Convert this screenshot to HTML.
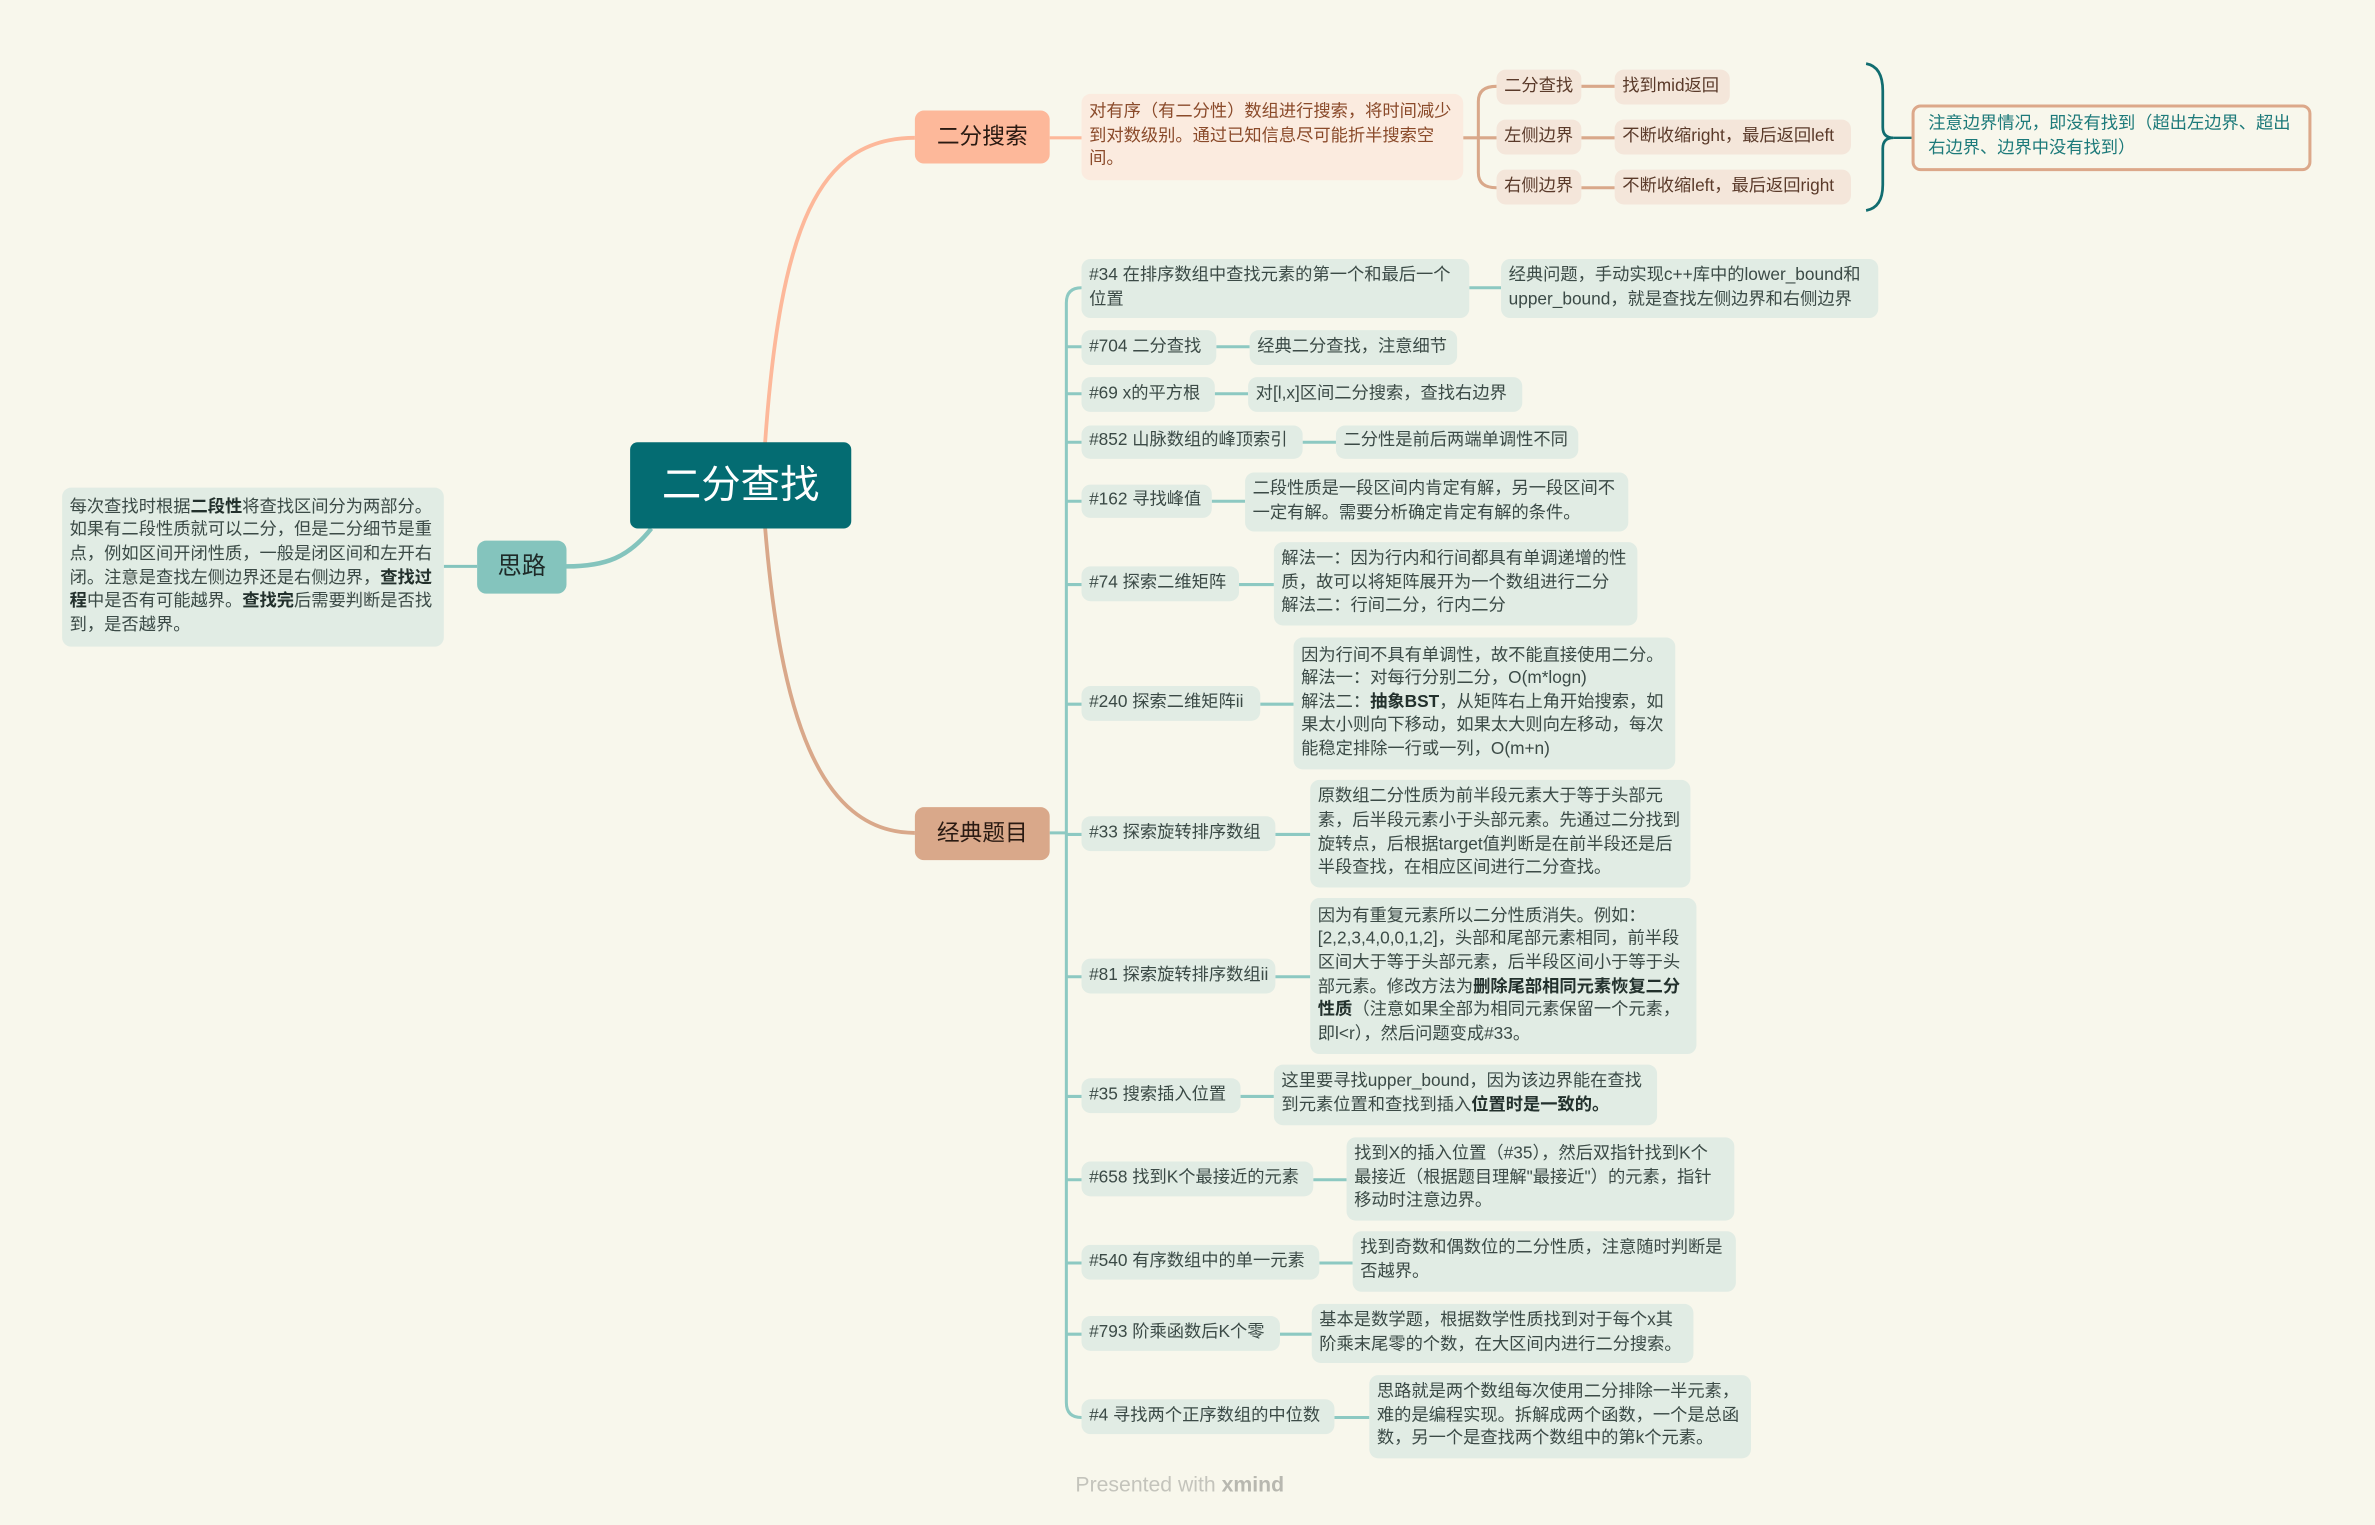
<!DOCTYPE html>
<html><head><meta charset="utf-8"><style>
html,body{margin:0;padding:0;background:#f8f7ec;width:2375px;height:1525px;overflow:hidden}
#w{position:absolute;left:0;top:0;width:1568px;height:1007px;transform:scale(1.5147,1.5144);transform-origin:0 0;font-family:"Liberation Sans","Noto Sans CJK SC",sans-serif}
.b{position:absolute;box-sizing:border-box;border-radius:6px;padding:0 5px;font-size:11.4px;line-height:15.6px;display:flex;align-items:center;color:#3b4a46;background:#e1ece4;white-space:nowrap}
.b>span{display:block}
.s{background:#f4e6da;color:#5a3a2a}
b{font-weight:bold;color:#22302c}
svg{position:absolute;left:0;top:0}
</style></head><body><div id="w">
<svg width="1568" height="1007" fill="none">
<path d="M505,294 C515,150 540,91 604,91" stroke="#fdb89a" stroke-width="2.5"/>
<path d="M505,347 C515,470 540,550 604,550" stroke="#d9a88a" stroke-width="2.5"/>
<path d="M430,349 C415,368 400,374 374,374" stroke="#84c4bd" stroke-width="3"/>
<path d="M293,374 L315,374" stroke="#84c4bd" stroke-width="2"/>
<path d="M693,91 L714,91" stroke="#fdb89a" stroke-width="2"/>
<path d="M966,91 L976,91 M988,57 Q976,57 976,67 L976,114 Q976,124 988,124 M976,91 L988,91" stroke="#d9a88a" stroke-width="2"/>
<path d="M1044,57 L1066,57 M1044,91 L1066,91 M1044,124 L1066,124" stroke="#d9a88a" stroke-width="2"/>
<path d="M1232,42 Q1243,44 1243,60 L1243,84 Q1243,91 1250,91 Q1243,91 1243,98 L1243,122 Q1243,137 1232,139" stroke="#116d70" stroke-width="1.8"/>
<path d="M1250,91 L1262,91" stroke="#116d70" stroke-width="1.5"/>
<path d="M693,550 L704,550" stroke="#8dc9c2" stroke-width="2"/>
<path d="M714,190 Q704,190 704,200 L704,926 Q704,936 714,936" stroke="#8dc9c2" stroke-width="2"/>
<g stroke="#8dc9c2" stroke-width="2">
<path d="M704,229 H714 M704,260 H714 M704,292 H714 M704,331 H714 M704,386 H714 M704,465 H714 M704,551 H714 M704,645 H714 M704,724 H714 M704,779 H714 M704,834 H714 M704,881 H714"/>
<path d="M970,190 H991 M803,229 H825 M802,260 H824 M860,292 H882 M800,331 H822 M818,386 H841 M832,465 H854 M842,551 H865 M842,645 H865 M819,724 H841 M867,779 H889 M871,834 H893 M845,881 H866 M881,936 H904"/>
</g>
</svg>
<div class="b" style="left:416px;top:292px;width:146px;height:57px;background:#046c72;color:#fff;font-size:26px;justify-content:center;border-radius:5px"><span>二分查找</span></div>
<div class="b" style="left:315px;top:357px;width:59px;height:35px;background:#84c4bd;color:#1e2a28;font-size:16px;justify-content:center"><span>思路</span></div>
<div class="b" style="left:41px;top:322px;width:252px;height:105px"><span>每次查找时根据<b>二段性</b>将查找区间分为两部分。<br>如果有二段性质就可以二分，但是二分细节是重<br>点，例如区间开闭性质，一般是闭区间和左开右<br>闭。注意是查找左侧边界还是右侧边界，<b>查找过<br>程</b>中是否有可能越界。<b>查找完</b>后需要判断是否找<br>到，是否越界。</span></div>
<div class="b" style="left:604px;top:73px;width:89px;height:35px;background:#fdb89a;color:#2a1a12;font-size:15px;justify-content:center"><span>二分搜索</span></div>
<div class="b" style="left:714px;top:62px;width:252px;height:57px;background:#fbebdf;color:#8a4a2a"><span>对有序（有二分性）数组进行搜索，将时间减少<br>到对数级别。通过已知信息尽可能折半搜索空<br>间。</span></div>
<div class="b s" style="left:988px;top:46px;width:56px;height:23px"><span>二分查找</span></div>
<div class="b s" style="left:988px;top:79px;width:56px;height:23px"><span>左侧边界</span></div>
<div class="b s" style="left:988px;top:112px;width:56px;height:23px"><span>右侧边界</span></div>
<div class="b s" style="left:1066px;top:46px;width:76px;height:23px"><span>找到mid返回</span></div>
<div class="b s" style="left:1066px;top:79px;width:156px;height:23px"><span>不断收缩right，最后返回left</span></div>
<div class="b s" style="left:1066px;top:112px;width:156px;height:23px"><span>不断收缩left，最后返回right</span></div>
<div class="b" style="left:1262px;top:69px;width:264px;height:44px;background:#f8f7ec;border:2px solid #dca88a;color:#1d7a7a;padding:0 9px"><span>注意边界情况，即没有找到（超出左边界、超出<br>右边界、边界中没有找到）</span></div>
<div class="b" style="left:604px;top:533px;width:89px;height:35px;background:#d9a88a;color:#2a1a12;font-size:15px;justify-content:center"><span>经典题目</span></div>

<div class="b" style="left:714px;top:171px;width:256px;height:39px"><span>#34 在排序数组中查找元素的第一个和最后一个<br>位置</span></div>
<div class="b" style="left:991px;top:171px;width:249px;height:39px"><span>经典问题，手动实现c++库中的lower_bound和<br>upper_bound，就是查找左侧边界和右侧边界</span></div>
<div class="b" style="left:714px;top:218px;width:89px;height:23px"><span>#704 二分查找</span></div>
<div class="b" style="left:825px;top:218px;width:137px;height:23px"><span>经典二分查找，注意细节</span></div>
<div class="b" style="left:714px;top:249px;width:88px;height:23px"><span>#69 x的平方根</span></div>
<div class="b" style="left:824px;top:249px;width:181px;height:23px"><span>对[l,x]区间二分搜索，查找右边界</span></div>
<div class="b" style="left:714px;top:281px;width:146px;height:22px"><span>#852 山脉数组的峰顶索引</span></div>
<div class="b" style="left:882px;top:281px;width:160px;height:22px"><span>二分性是前后两端单调性不同</span></div>
<div class="b" style="left:714px;top:320px;width:86px;height:22px"><span>#162 寻找峰值</span></div>
<div class="b" style="left:822px;top:312px;width:253px;height:39px"><span>二段性质是一段区间内肯定有解，另一段区间不<br>一定有解。需要分析确定肯定有解的条件。</span></div>
<div class="b" style="left:714px;top:374px;width:104px;height:23px"><span>#74 探索二维矩阵</span></div>
<div class="b" style="left:841px;top:358px;width:240px;height:55px"><span>解法一：因为行内和行间都具有单调递增的性<br>质，故可以将矩阵展开为一个数组进行二分<br>解法二：行间二分，行内二分</span></div>
<div class="b" style="left:714px;top:453px;width:118px;height:23px"><span>#240 探索二维矩阵ii</span></div>
<div class="b" style="left:854px;top:421px;width:252px;height:87px"><span>因为行间不具有单调性，故不能直接使用二分。<br>解法一：对每行分别二分，O(m*logn)<br>解法二：<b>抽象BST</b>，从矩阵右上角开始搜索，如<br>果太小则向下移动，如果太大则向左移动，每次<br>能稳定排除一行或一列，O(m+n)</span></div>
<div class="b" style="left:714px;top:539px;width:128px;height:23px"><span>#33 探索旋转排序数组</span></div>
<div class="b" style="left:865px;top:515px;width:251px;height:71px"><span>原数组二分性质为前半段元素大于等于头部元<br>素，后半段元素小于头部元素。先通过二分找到<br>旋转点，后根据target值判断是在前半段还是后<br>半段查找，在相应区间进行二分查找。</span></div>
<div class="b" style="left:714px;top:633px;width:128px;height:23px"><span>#81 探索旋转排序数组ii</span></div>
<div class="b" style="left:865px;top:593px;width:255px;height:103px"><span>因为有重复元素所以二分性质消失。例如：<br>[2,2,3,4,0,0,1,2]，头部和尾部元素相同，前半段<br>区间大于等于头部元素，后半段区间小于等于头<br>部元素。修改方法为<b>删除尾部相同元素恢复二分<br>性质</b>（注意如果全部为相同元素保留一个元素，<br>即l&lt;r），然后问题变成#33。</span></div>
<div class="b" style="left:714px;top:712px;width:105px;height:23px"><span>#35 搜索插入位置</span></div>
<div class="b" style="left:841px;top:703px;width:253px;height:40px"><span>这里要寻找upper_bound，因为该边界能在查找<br>到元素位置和查找到插入<b>位置时是一致的。</b></span></div>
<div class="b" style="left:714px;top:767px;width:153px;height:23px"><span>#658 找到K个最接近的元素</span></div>
<div class="b" style="left:889px;top:751px;width:256px;height:55px"><span>找到X的插入位置（#35），然后双指针找到K个<br>最接近（根据题目理解"最接近"）的元素，指针<br>移动时注意边界。</span></div>
<div class="b" style="left:714px;top:822px;width:157px;height:23px"><span>#540 有序数组中的单一元素</span></div>
<div class="b" style="left:893px;top:813px;width:253px;height:40px"><span>找到奇数和偶数位的二分性质，注意随时判断是<br>否越界。</span></div>
<div class="b" style="left:714px;top:869px;width:131px;height:23px"><span>#793 阶乘函数后K个零</span></div>
<div class="b" style="left:866px;top:861px;width:252px;height:39px"><span>基本是数学题，根据数学性质找到对于每个x其<br>阶乘末尾零的个数，在大区间内进行二分搜索。</span></div>
<div class="b" style="left:714px;top:924px;width:167px;height:23px"><span>#4 寻找两个正序数组的中位数</span></div>
<div class="b" style="left:904px;top:908px;width:252px;height:55px"><span>思路就是两个数组每次使用二分排除一半元素，<br>难的是编程实现。拆解成两个函数，一个是总函<br>数，另一个是查找两个数组中的第k个元素。</span></div>
<div style="position:absolute;left:710px;top:972px;font-size:14px;color:#c4c4bc">Presented with <b style="color:#b8b8b0">xmind</b></div>
</div></body></html>
